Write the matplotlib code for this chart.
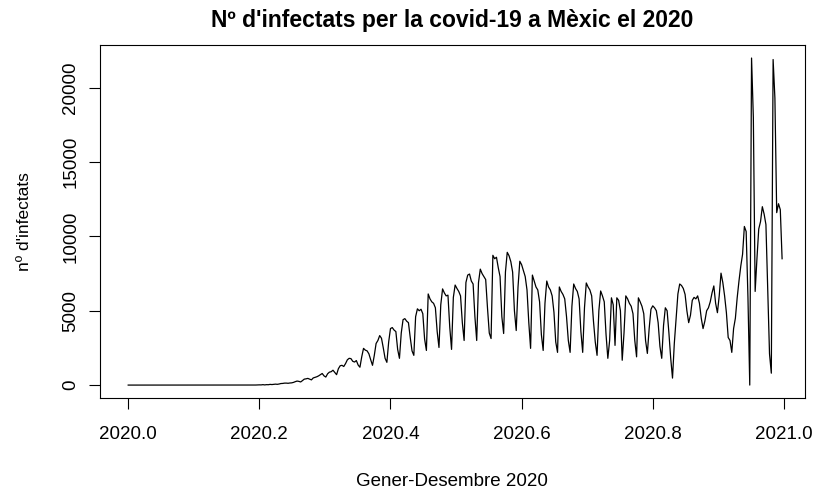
#!/usr/bin/env python3

import numpy as np
import matplotlib
matplotlib.use('Agg')
from matplotlib import pyplot as plt


# daily new cases, one list per month (2020 is a leap year)
gener = [0, 0, 0, 0, 0, 0, 0, 0, 0, 0, 0, 0, 0, 0, 0, 0,
         0, 0, 0, 0, 0, 0, 0, 0, 0, 0, 0, 0, 0, 0, 0]
febrer = [0, 0, 0, 0, 0, 0, 0, 0, 0, 0, 0, 0, 0, 0, 0,
          0, 0, 0, 0, 0, 0, 0, 0, 0, 0, 0, 0, 1, 3]
marc = [1, 0, 1, 1, 0, 2, 3, 0, 1, 3, 5, 4, 10, 15, 12,
        29, 11, 29, 24, 47, 35, 48, 64, 51, 72, 104, 111, 131, 133, 121,
        140]
abril = [150, 180, 230, 270, 250, 210, 300, 400, 420, 450,
         400, 350, 480, 520, 560, 620, 700, 780, 620, 540,
         760, 870, 900, 1000, 850, 700, 1100, 1300, 1330, 1250]
maig = [1450, 1700, 1800, 1780, 1600, 1550, 1650, 1350, 1200, 1900,
        2470, 2350, 2300, 2100, 1700, 1330, 2000, 2800, 3000, 3330,
        3150, 2500, 1800, 1530, 2900, 3800, 3870, 3700, 3600, 2400,
        1800]
juny = [3500, 4400, 4470, 4300, 4200, 3200, 2300, 2000, 4600, 5130,
        5000, 5100, 4800, 3100, 2330, 6130, 5800, 5600, 5500, 5200,
        3600, 2530, 5400, 6470, 6200, 6000, 6050, 3900, 2400, 5900]
juliol = [6730, 6500, 6300, 6000, 4200, 3000, 6900, 7400, 7470, 7000,
          6800, 4600, 3000, 6900, 7800, 7500, 7300, 7100, 5200, 3500,
          3130, 8730, 8500, 8600, 7900, 7300, 4600, 3470, 7600, 8930,
          8700]
agost = [8300, 7600, 5000, 3670, 6600, 8330, 8100, 7700, 7300, 6400,
         4200, 2470, 7400, 7000, 6600, 6400, 5600, 3400, 2330, 5500,
         7000, 6600, 6400, 6000, 4900, 2900, 2200, 6600, 6300, 6100,
         5800]
setembre = [4600, 3000, 2200, 5300, 6800, 6500, 6300, 5800, 3600, 2200,
            5200, 6870, 6600, 6400, 6000, 4300, 2900, 2000, 5000, 6330,
            6000, 5600, 3400, 1800, 3000, 5870, 5400, 2670, 5870, 5700]
octubre = [5000, 1670, 3500, 6000, 5800, 5500, 5300, 4800, 3000, 1900,
           5870, 5600, 5300, 4800, 3000, 2130, 3800, 5100, 5330, 5200,
           5000, 4200, 2600, 1800, 4000, 5200, 5000, 3500, 1800, 470,
           2800]
novembre = [4500, 6130, 6800, 6700, 6500, 6100, 5000, 4200, 4700, 5700,
            5900, 5800, 6000, 5500, 4500, 3800, 4300, 5000, 5200, 5600,
            6200, 6670, 5500, 4870, 6000, 7530, 6900, 6000, 4870, 3200]
desembre = [3000, 2200, 3800, 4500, 5870, 7000, 8000, 8800, 10670, 10330,
            5870, 0, 22000, 18000, 6300, 8500, 10500, 11000, 12000, 11500,
            10800, 6500, 2100, 800, 21900, 19300, 11600, 12200, 11800, 8500]

casos = np.array(gener + febrer + marc + abril + maig + juny + juliol +
                 agost + setembre + octubre + novembre + desembre, dtype=float)
# same time axis as ts(casos, start=2020, frequency=365)
temps = 2020 + np.arange(len(casos)) / 365

plt.rcParams['font.family'] = ['Liberation Sans', 'DejaVu Sans']

fig = plt.figure(figsize=(8.13, 4.94), dpi=100)
ax = fig.add_axes([0.123, 0.194, 0.867, 0.715])

ax.plot(temps, casos, color='black', linewidth=0.9)

ax.set_xlim(2019.957, 2021.032)
ax.set_ylim(-880, 22880)
ax.set_xticks([2020.0, 2020.2, 2020.4, 2020.6, 2020.8, 2021.0])
ax.set_xticklabels(['2020.0', '2020.2', '2020.4', '2020.6', '2020.8', '2021.0'])
ax.set_yticks([0, 5000, 10000, 15000, 20000])
ax.set_yticklabels(['0', '5000', '10000', '15000', '20000'],
                   rotation=90, va='center')

ax.tick_params(direction='out', length=8, width=0.8, labelsize=13.5,
               colors='black')
ax.tick_params(axis='x', pad=12)
ax.tick_params(axis='y', pad=7)
for spine in ax.spines.values():
    spine.set_linewidth(0.8)

ax.set_title("Nº d'infectats per la covid-19 a Mèxic el 2020",
             fontsize=16.5, fontweight='bold', pad=13)
ax.set_xlabel('Gener-Desembre 2020', fontsize=13.5, labelpad=22)
ax.set_ylabel("nº d'infectats", fontsize=12.5, labelpad=22)

fig.savefig('out.png', dpi=100)
